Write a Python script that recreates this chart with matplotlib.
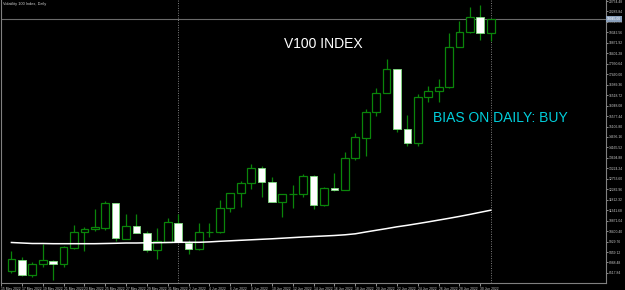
import numpy as np
import pandas as pd
import matplotlib
matplotlib.use('Agg')
import matplotlib.pyplot as plt
import matplotlib.transforms as mtransforms

# Volatility 100 Index, daily candles 16 May - 1 Jul 2022
start = pd.Timestamp('2022-05-15')
dates = pd.date_range('2022-05-16', '2022-07-01', freq='D')

opens = [8605, 9100, 8425, 8920, 9055, 8920, 9640, 10360, 10495, 10540,
         11665, 10045, 10630, 10315, 9550, 9910, 10765, 9865, 9595, 10360,
         10360, 11440, 12115, 12565, 13240, 12610, 11710, 12070, 12070, 12880,
         11575, 12340, 12250, 13690, 14590, 15760, 16615, 17695, 14995, 14365,
         16435, 16705, 16885, 18685, 19360, 20035, 19315]
highs = [9505, 9235, 9010, 9820, 9100, 9730, 10675, 10585, 11395, 11755,
         11680, 11170, 11170, 10405, 10540, 10990, 11170, 10000, 10765, 10765,
         11800, 12115, 12655, 13420, 13330, 12835, 12070, 12475, 12970, 12925,
         12385, 13015, 13960, 14815, 15895, 16840, 18145, 17710, 15625, 16570,
         16930, 17245, 19315, 19855, 20485, 20575, 19960]
lows = [8515, 8380, 8335, 8785, 8200, 8785, 9595, 9505, 10405, 10450,
        9955, 10030, 10300, 9460, 9145, 9895, 9895, 9370, 9550, 10135,
        10315, 11260, 11485, 12295, 11935, 11695, 11035, 11440, 11935, 11395,
        11530, 12205, 12235, 13600, 13780, 15580, 16600, 14860, 14230, 14230,
        16210, 16210, 16840, 18670, 19315, 19000, 18955]
closes = [9145, 8425, 8920, 9100, 8920, 9685, 10360, 10495, 10585, 11665,
          10090, 10630, 10315, 9550, 9955, 10810, 9910, 9595, 10360, 10375,
          11440, 12115, 12565, 13240, 12610, 11710, 12070, 12085, 12880, 11575,
          12340, 12250, 13690, 14635, 15760, 16615, 17695, 14995, 14365, 16435,
          16705, 16885, 18685, 19360, 20035, 19315, 19945]
ma = [9888, 9865, 9843, 9843, 9834, 9834, 9834, 9834, 9834, 9843,
      9852, 9865, 9865, 9874, 9879, 9888, 9897, 9897, 9897, 9915,
      9942, 9964, 9987, 10009, 10032, 10054, 10081, 10108, 10135, 10158,
      10180, 10203, 10234, 10279, 10360, 10437, 10513, 10594, 10662, 10738,
      10815, 10896, 10977, 11062, 11152, 11247, 11341]

tick_dates = pd.date_range('2022-05-15', '2022-06-30', freq='2D')
price_ticks = 20754.48 - 470.64 * np.arange(27)

x = np.array([(d - start).days for d in dates])
o = np.array(opens)
h = np.array(highs)
l = np.array(lows)
c = np.array(closes)

green = '#0a850a'
grey = '#808080'

fig = plt.figure(figsize=(6.25, 2.9), dpi=100, facecolor='black')
ax = fig.add_axes([1/625, 7/290, 605/625, 283/290])
ax.set_facecolor('black')

up = c >= o
ax.vlines(x, l, h, color=green, lw=0.9, zorder=2)
ax.bar(x[up], (c - o)[up], bottom=o[up], width=0.74,
       facecolor='black', edgecolor=green, lw=0.9, zorder=3)
ax.bar(x[~up], (o - c)[~up], bottom=c[~up], width=0.74,
       facecolor='white', edgecolor='#7fdc7f', lw=0.6, zorder=3)

ax.plot(x, ma, color='white', lw=1.1, zorder=4)

# month separators and bid line
for xi, d in zip(x, dates):
    if d.day == 1:
        ax.axvline(xi, color=grey, lw=0.7, ls=(0, (1, 1.5)), zorder=1)
ax.axhline(closes[-1], color='#6a6a6a', lw=0.8, zorder=1)

ax.set_xlim(0, 58.06)
ax.set_ylim(8065, 20800)

ax.spines['top'].set_visible(False)
for s in ['left', 'bottom', 'right']:
    ax.spines[s].set_color(grey)
    ax.spines[s].set_linewidth(0.8)

ax.yaxis.tick_right()
ax.set_yticks(price_ticks)
ax.set_yticklabels(['%.2f' % p for p in price_ticks])
ax.tick_params(axis='y', colors='#c8c8c8', labelsize=2.4, length=1.5, width=0.5, pad=0.6)

tx = [(d - start).days for d in tick_dates]
ax.set_xticks(tx)
ax.set_xticklabels([d.strftime('%-d %b %Y') for d in tick_dates])
ax.tick_params(axis='x', colors='#c8c8c8', labelsize=2.4, length=2, width=0.5, pad=1)
for lab in ax.get_xticklabels():
    lab.set_ha('left')
    lab.set_fontfamily('Liberation Sans')
for lab in ax.get_yticklabels():
    lab.set_fontfamily('Liberation Sans')

trans = mtransforms.blended_transform_factory(ax.transAxes, ax.transData)
ax.text(1.0015, closes[-1], '%.2f' % closes[-1], transform=trans, fontsize=2.4,
        color='white', va='center', ha='left', family='Liberation Sans',
        bbox=dict(boxstyle='square,pad=0.25', facecolor='#8aa0bc', edgecolor='none'),
        zorder=6)

ax.text(0.004, 0.992, 'Volatility 100 Index, Daily', transform=ax.transAxes,
        fontsize=2.8, color='#d0d0d0', va='top', ha='left', family='Liberation Sans')
ax.text(0.532, 0.845, 'V100 INDEX', transform=ax.transAxes, fontsize=10,
        color='white', va='center', ha='center', family='Liberation Sans')
ax.text(0.714, 0.583, 'BIAS ON DAILY: BUY', transform=ax.transAxes, fontsize=10,
        color='#00cfdc', va='center', ha='left', family='Liberation Sans')

fig.savefig('out.png', dpi=100, facecolor='black')
